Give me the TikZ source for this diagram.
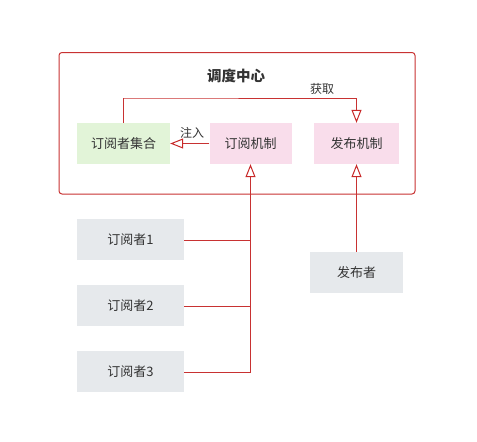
\documentclass[tikz,border=0pt]{standalone}
\usepackage{fontspec}
\setmainfont{Noto Sans CJK SC}
\usetikzlibrary{arrows.meta}
\definecolor{lred}{RGB}{200,50,50}
\definecolor{dred}{RGB}{200,40,40}
\definecolor{gfill}{RGB}{226,244,216}
\definecolor{pfill}{RGB}{249,221,235}
\definecolor{grayfill}{RGB}{230,233,236}
\definecolor{txt}{RGB}{51,51,51}
\tikzset{
  box/.style={minimum width=#1, minimum height=41pt, inner sep=0pt, font=\fontsize{13}{15}\selectfont, text=txt},
  gbox/.style={box=93pt, fill=gfill},
  pbox/.style={box=#1, fill=pfill},
  sbox/.style={box=#1, fill=grayfill},
  conn/.style={draw=lred, line width=1pt},
  tip/.style={-{Triangle[open, length=13pt, width=10pt, color=dred, fill=white, line width=1pt]}},
  lbl/.style={font=\fontsize{12}{14}\selectfont, text=txt, inner sep=1pt}
}
\begin{document}
\begin{tikzpicture}[x=1pt,y=-1pt]
\useasboundingbox (0,0) rectangle (477,442);
\fill[white] (0,0) rectangle (477,442);
% container
\draw[draw=lred, line width=1pt, rounded corners=3pt] (59,52.5) rectangle (415,194);
\node[font=\bfseries\fontsize{14.5}{16}\selectfont, text=txt] (title) at (236,76) {调度中心};
% inner nodes
\node[gbox] (set) at (123.5,143.5) {订阅者集合};
\node[pbox=82pt] (sub) at (250.5,143.5) {订阅机制};
\node[pbox=85pt] (pub) at (356.5,143.5) {发布机制};
% outer nodes
\node[sbox=107pt] (s1) at (130.5,239.5) {订阅者1};
\node[sbox=107pt] (s2) at (130.5,305.5) {订阅者2};
\node[sbox=107pt] (s3) at (130.5,371.5) {订阅者3};
\node[sbox=93pt] (pr) at (356.5,272.5) {发布者};
\coordinate (bus) at (250.5,372);
% connectors
\draw[conn, tip] (set.north) |- (123,98) -| (pub.north);
\node[lbl] (get) at (322,89) {获取};
\draw[conn, tip] (sub.west) -- (set.east);
\node[lbl] (inj) at (192,133) {注入};
\draw[conn] (s1.east |- 0,240) -- (250.5,240);
\draw[conn] (s2.east |- 0,306) -- (250.5,306);
\draw[conn] (s3.east |- 0,372) -- (bus);
\draw[conn, tip] (bus) -- (sub.south);
\draw[conn, tip] (pr.north) -- (pub.south);
\end{tikzpicture}
\end{document}
